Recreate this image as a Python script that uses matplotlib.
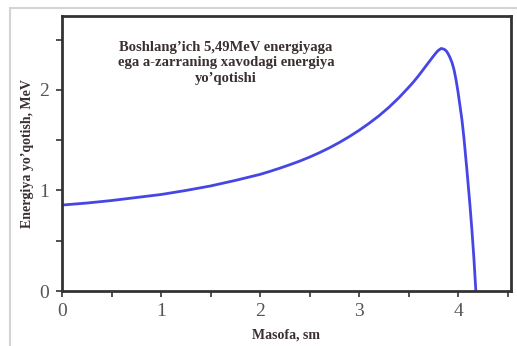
import matplotlib
matplotlib.use("Agg")
import matplotlib.pyplot as plt
from matplotlib.patches import Rectangle
from matplotlib.ticker import MultipleLocator

# distance (sm) and energy loss (MeV)
masofa = [0.0, 0.25, 0.5, 0.75, 1.0, 1.25, 1.5, 1.75, 2.0, 2.1, 2.2, 2.3,
          2.4, 2.5, 2.6, 2.7, 2.8, 2.9, 3.0, 3.1, 3.2, 3.3, 3.4, 3.5, 3.55,
          3.6, 3.65, 3.7, 3.75, 3.78, 3.8, 3.83, 3.86, 3.88, 3.9, 3.92,
          3.94, 3.96, 3.98, 4.0, 4.02, 4.04, 4.06, 4.09, 4.12, 4.14, 4.16,
          4.18]
energiya = [0.855, 0.875, 0.90, 0.93, 0.96, 1.0, 1.045, 1.10, 1.16, 1.19,
            1.222, 1.256, 1.292, 1.332, 1.376, 1.424, 1.477, 1.535, 1.598,
            1.667, 1.742, 1.826, 1.92, 2.025, 2.08, 2.14, 2.205, 2.27,
            2.335, 2.372, 2.393, 2.413, 2.405, 2.39, 2.36, 2.32, 2.27, 2.20,
            2.10, 1.98, 1.84, 1.70, 1.52, 1.20, 0.86, 0.61, 0.33, 0.0]

x_ticks = [0, 1, 2, 3, 4]
y_ticks = [0, 1, 2]
izoh = "Boshlang\u2019ich 5,49MeV energiyaga\nega a-zarraning xavodagi energiya\nyo\u2019qotishi"

fig = plt.figure(figsize=(5.17, 3.46), dpi=100)
fig.patches.append(Rectangle((10 / 517, -0.01), 1.0, 1.01 - 8 / 346,
                             transform=fig.transFigure, fill=False,
                             edgecolor="#d4d4d4", lw=1.5))

ax = fig.add_axes([62 / 517, 55 / 346, 449 / 517, 275 / 346])
ax.plot(masofa, energiya, color="#4646e6", lw=2.0, solid_joinstyle="round")

ax.set_xlim(0, 4.535)
ax.set_ylim(0, 2.736)
ax.set_xticks(x_ticks)
ax.set_yticks(y_ticks)
ax.xaxis.set_minor_locator(MultipleLocator(0.5))
ax.yaxis.set_minor_locator(MultipleLocator(0.5))
ax.tick_params(which="both", direction="out", length=4, width=1.2,
               color="#333333", labelcolor="#555555")
ax.tick_params(labelsize=14, pad=5)
for lab in ax.get_xticklabels() + ax.get_yticklabels():
    lab.set_family("Liberation Serif")

for side in ax.spines.values():
    side.set_linewidth(2.0)
    side.set_color("#333333")

ax.set_xlabel("Masofa, sm", family="Liberation Serif", fontweight="bold",
              fontsize=10, color="#3a3030", labelpad=6)
ax.set_ylabel("Energiya yo\u2019qotish, MeV", family="Liberation Serif",
              fontweight="bold", fontsize=10, color="#3a3030", labelpad=4)

ax.text(0.365, 0.83, izoh, transform=ax.transAxes, ha="center", va="center",
        family="Liberation Serif", fontweight="bold", fontsize=10.5,
        color="#3a3030", linespacing=1.25)

fig.savefig("out.png", dpi=100)
